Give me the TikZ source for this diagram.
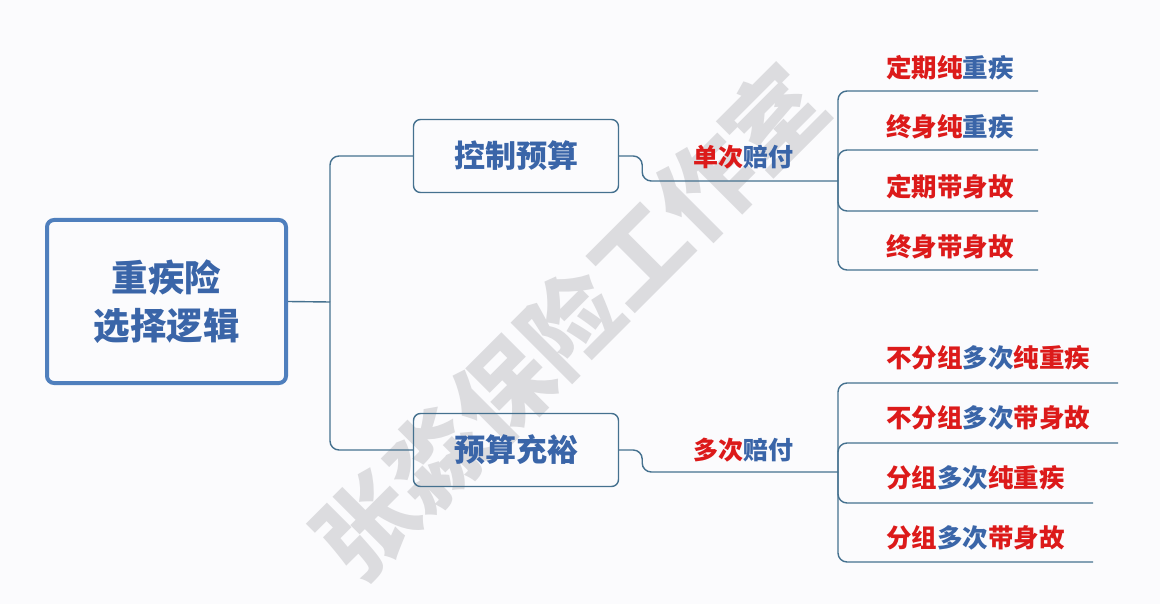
\documentclass[tikz,border=0pt]{standalone}
\usepackage{fontspec}
\newfontfamily\cjk{Noto Sans CJK SC}
\definecolor{bg}{HTML}{FBFBFD}
\definecolor{mainblue}{HTML}{4F7FBD}
\definecolor{txtblue}{HTML}{3A65A8}
\definecolor{linecol}{HTML}{45718F}
\definecolor{txtred}{HTML}{DC1A1A}
\definecolor{wm}{HTML}{DCDCDF}
\begin{document}
\begin{tikzpicture}[x=1pt,y=-1pt,
  mainbox/.style={draw=mainblue,line width=4pt,rounded corners=7pt,minimum width=239pt,minimum height=163pt,inner sep=0pt,align=center,font=\cjk\bfseries\fontsize{36.5}{48}\selectfont,text=txtblue},
  midbox/.style={draw=linecol,line width=1.4pt,rounded corners=7pt,minimum width=205pt,minimum height=73pt,inner sep=0pt,font=\cjk\bfseries\fontsize{31}{34}\selectfont,text=txtblue},
  conn/.style={draw=linecol,line width=1.4pt,rounded corners=9pt},
  lbl/.style={inner sep=0pt,font=\cjk\bfseries\fontsize{25}{28}\selectfont,text=txtblue},
  leaf/.style={anchor=west,inner sep=0pt,font=\cjk\bfseries\fontsize{25.5}{28}\selectfont,text=txtred},
  wmark/.style={font=\cjk\bfseries\fontsize{96}{100}\selectfont,text=wm,rotate=45,inner sep=0pt}]
\fill[bg] (0,0) rectangle (1160,604);
\useasboundingbox (0,0) rectangle (1160,604);
% watermark
\node[wmark] (wm) at (570,322) {张淼保险工作室};
% main nodes
\node[mainbox] (main) at (166.5,301.5) {重疾险\\选择逻辑};
\node[midbox] (b1) at (516,156) {控制预算};
\node[midbox] (b2) at (516,450) {预算充裕};
\coordinate (j1) at (330,302);
\draw[conn] (main.east) -- (j1);
\draw[conn] (b1.west) -| (j1);
\draw[conn] (b2.west) -| (j1);
% second level
\coordinate (j2) at (838,181);
\coordinate (j3) at (838,472);
\draw[conn] (b1.east) -- ++(23,0) |- (j2);
\draw[conn] (b2.east) -- ++(23,0) |- (j3);
\node[lbl] (l1) at (743,157) {\textcolor{txtred}{单次}赔付};
\node[lbl] (l2) at (743,450) {\textcolor{txtred}{多次}赔付};
% leaves upper
\coordinate (e1) at (1038,91);
\coordinate (e2) at (1038,150);
\coordinate (e3) at (1038,211);
\coordinate (e4) at (1038,270);
\foreach \e in {e1,e2,e3,e4} \draw[conn] (j2) |- (\e);
\node[leaf] (t1) at (886,68) {定期纯\textcolor{txtblue}{重疾}};
\node[leaf] (t2) at (886,127) {终身纯\textcolor{txtblue}{重疾}};
\node[leaf] (t3) at (886,187) {定期带身故};
\node[leaf] (t4) at (886,247) {终身带身故};
% leaves lower
\coordinate (f1) at (1118,383);
\coordinate (f2) at (1118,443);
\coordinate (f3) at (1093,503);
\coordinate (f4) at (1093,562);
\foreach \e in {f1,f2,f3,f4} \draw[conn] (j3) |- (\e);
\node[leaf] (u1) at (886,358) {不分组\textcolor{txtblue}{多次}纯重疾};
\node[leaf] (u2) at (886,418) {不分组\textcolor{txtblue}{多次}带身故};
\node[leaf] (u3) at (886,478) {分组\textcolor{txtblue}{多次}纯重疾};
\node[leaf] (u4) at (886,538) {分组\textcolor{txtblue}{多次}带身故};
\end{tikzpicture}
\end{document}
